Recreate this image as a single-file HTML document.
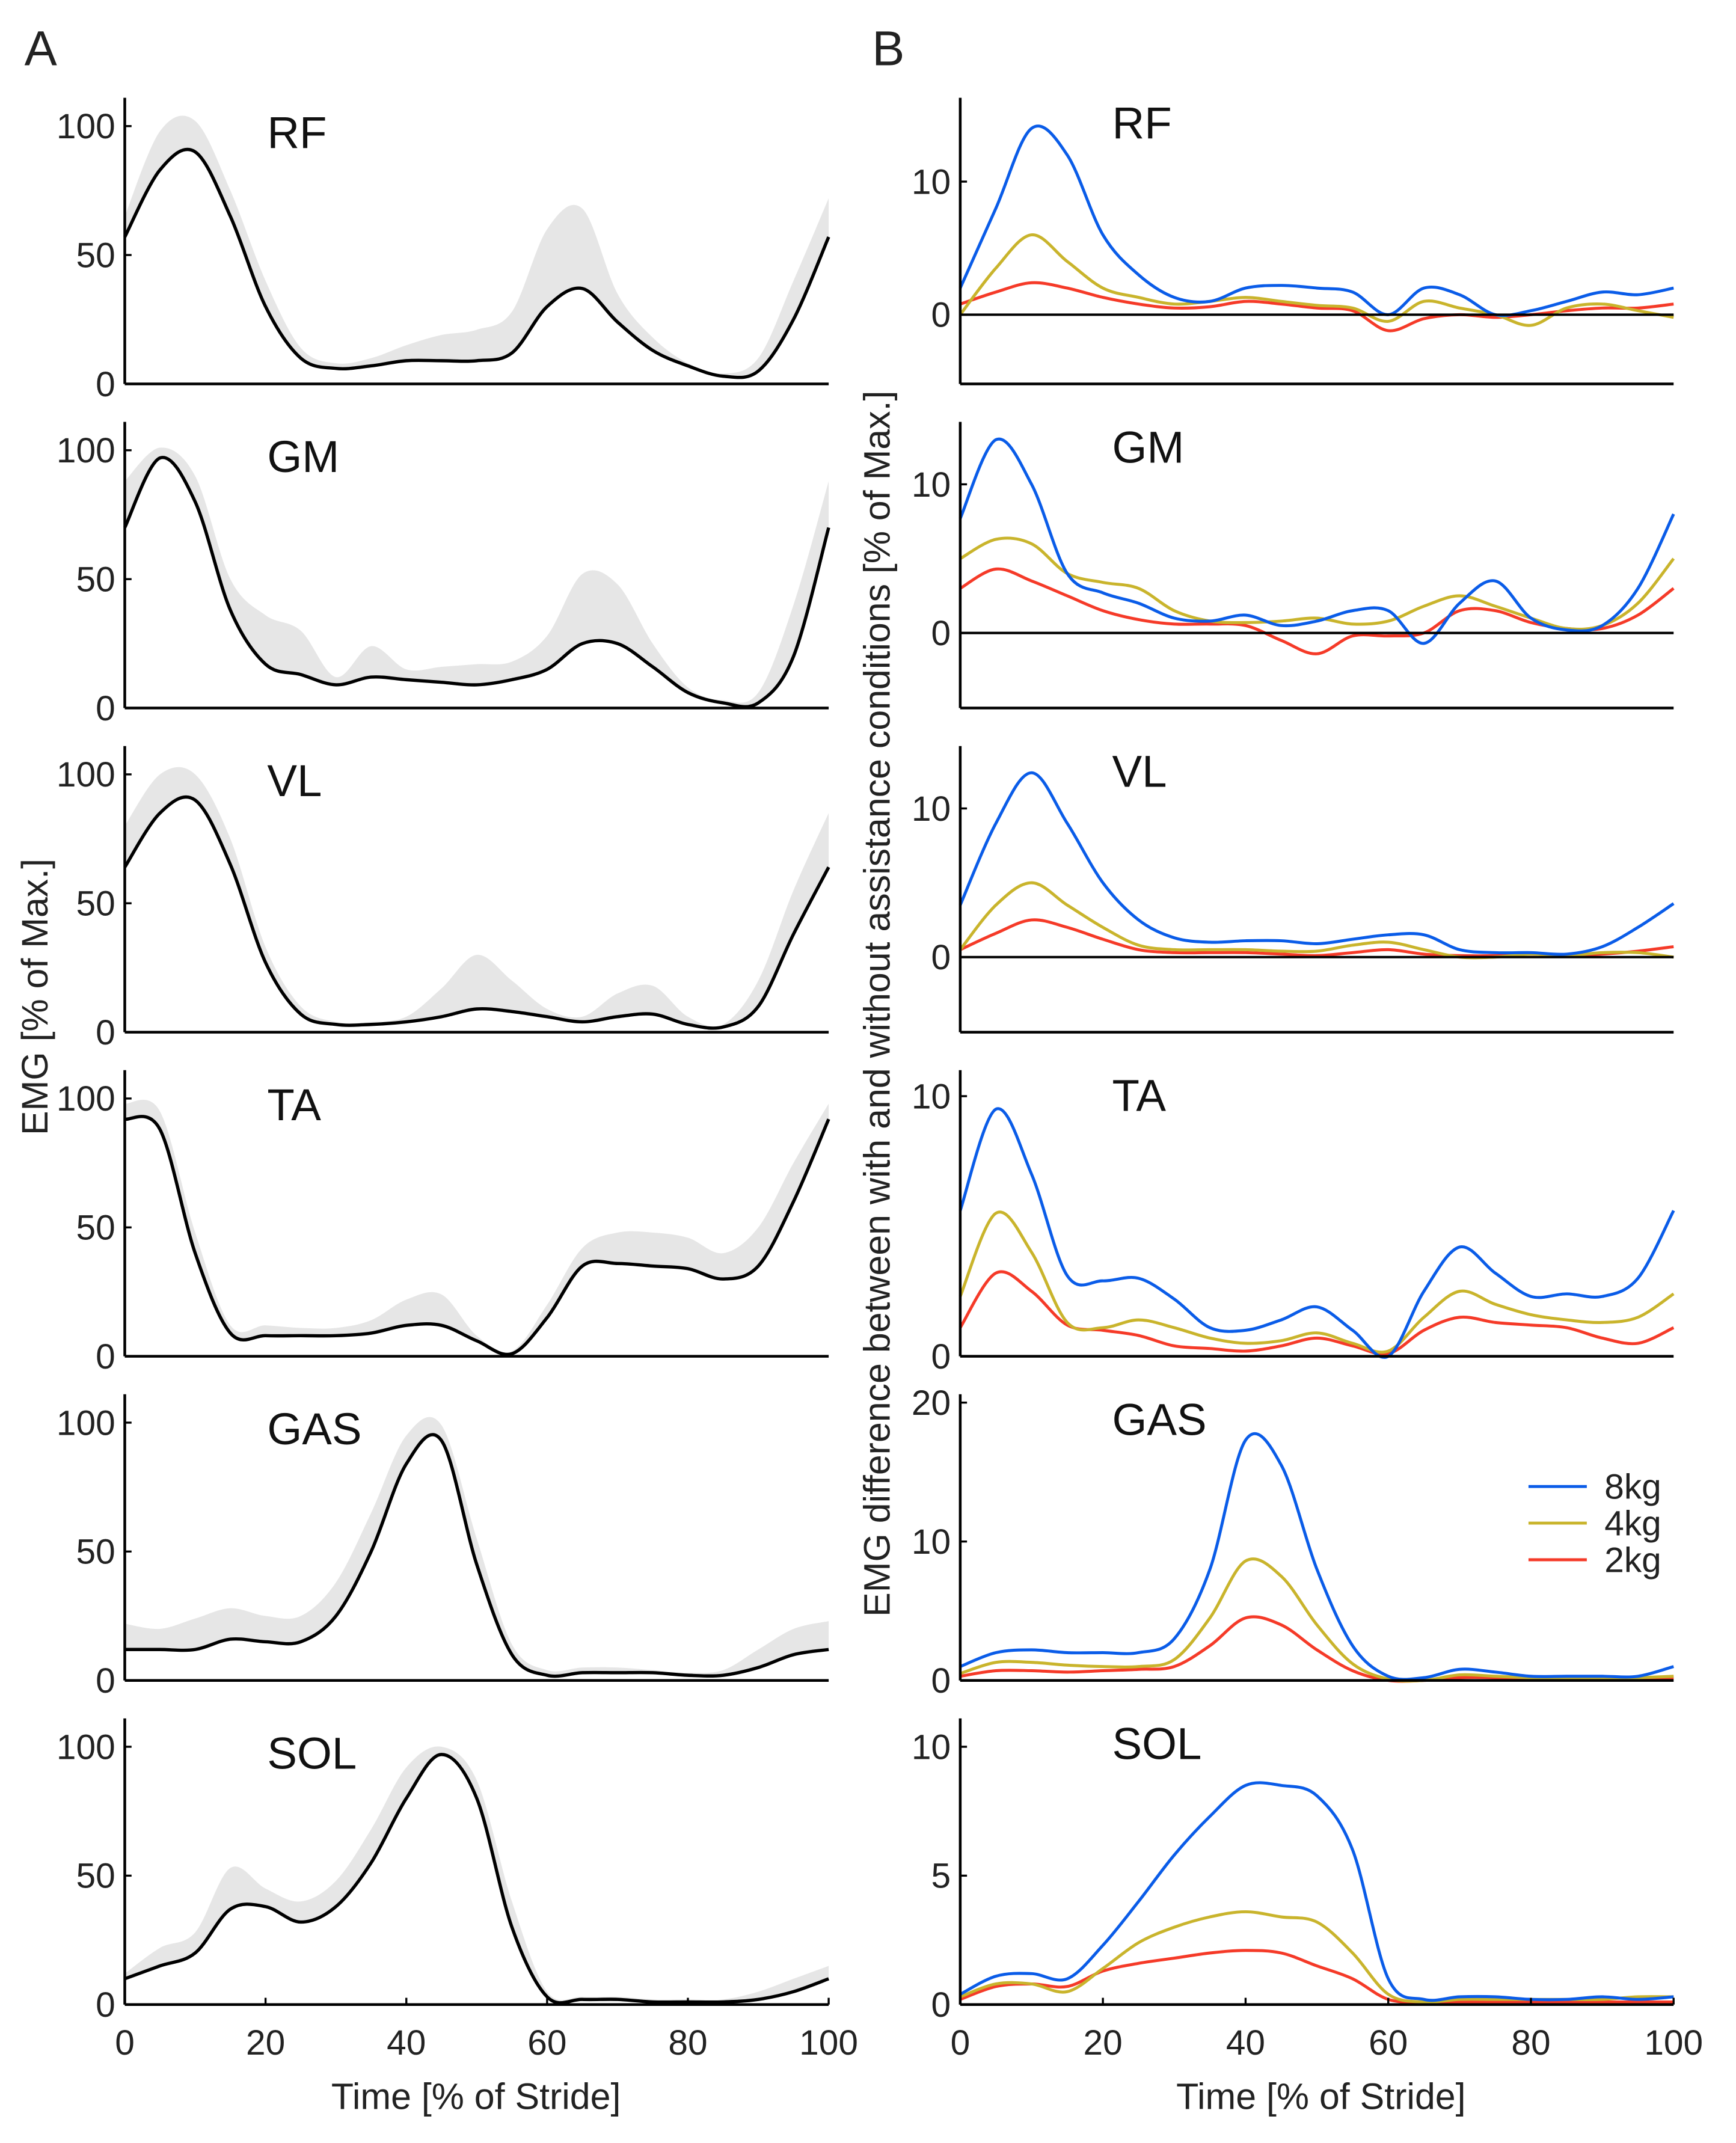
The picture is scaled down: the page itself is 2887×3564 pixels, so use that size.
<!DOCTYPE html>
<html><head><meta charset="utf-8"><style>
html,body{margin:0;padding:0;background:#fff;}
svg{display:block;font-family:"Liberation Sans",sans-serif;}
</style></head><body>
<svg id="fig" width="2887" height="3564" viewBox="0 0 1280 1580" xmlns="http://www.w3.org/2000/svg">
<text x="18" y="48" font-size="36" fill="#222">A</text>
<text x="643" y="48" font-size="36" fill="#222">B</text>
<text transform="translate(35,735) rotate(-90)" text-anchor="middle" font-size="27" fill="#222">EMG [% of Max.]</text>
<text transform="translate(656,740) rotate(-90)" text-anchor="middle" font-size="27" fill="#222">EMG difference between with and without assistance conditions [% of Max.]</text>
<text x="351" y="1555" text-anchor="middle" font-size="27" fill="#222">Time [% of Stride]</text>
<text x="974" y="1555" text-anchor="middle" font-size="27" fill="#222">Time [% of Stride]</text>
<g id="plots"></g>
</svg>
<script>
const xs=[0,5,10,15,20,25,30,35,40,45,50,55,60,65,70,75,80,85,90,95,100];
const muscles=["RF","GM","VL","TA","GAS","SOL"];
const meanRF=[57,83,90,65,30,10,6,7,9,9,9,12,30,37,24,13,7,3,5,25,57];
const upRF=[65,98,102,75,40,14,8,10,15,19,21,28,60,68,35,18,8,4,10,40,72];
const meanGM=[70,97,80,38,17,13,9,12,11,10,9,11,15,25,25,16,6,2,2,20,70];
const upGM=[88,101,90,50,36,30,12,24,15,16,17,18,28,52,48,25,8,3,6,40,88];
const meanVL=[64,85,90,65,27,7,3,3,4,6,9,8,6,4,6,7,3,2,10,38,64];
const upVL=[80,100,100,75,33,10,4,4,6,17,30,20,9,6,15,18,6,3,20,55,85];
const meanTA=[92,88,40,9,8,8,8,9,12,12,6,1,15,35,36,35,34,30,35,60,92];
const upTA=[98,95,48,12,12,11,11,14,22,24,8,2,20,42,48,48,46,40,50,75,98];
const meanGAS=[12,12,12,16,15,15,25,50,84,93,45,10,2,3,3,3,2,2,5,10,12];
const upGAS=[22,20,24,28,25,25,38,65,95,99,55,14,4,5,5,4,3,4,12,20,23];
const meanSOL=[10,15,20,37,38,32,38,55,80,97,80,30,3,2,2,1,1,1,2,5,10];
const upSOL=[12,22,28,53,45,40,48,68,92,100,87,40,5,3,3,2,2,2,5,10,15];
const meanData=[meanRF,meanGM,meanVL,meanTA,meanGAS,meanSOL];
const upData=[upRF,upGM,upVL,upTA,upGAS,upSOL];

const kg8RF=[2,8,14,12,6,3,1.3,1,2,2.2,2,1.7,0,2,1.5,0,0.3,1,1.7,1.5,2];
const kg4RF=[0,3.5,6,4,2,1.3,0.8,1,1.3,1,0.7,0.5,-0.5,1,0.5,0,-0.8,0.5,0.8,0.3,-0.2];
const kg2RF=[0.8,1.7,2.4,2,1.3,0.8,0.5,0.6,1,0.8,0.5,0.3,-1.2,-0.3,0,-0.2,0,0.3,0.5,0.5,0.8];
const kg8GM=[7.7,13,10,4,2.7,2,1,0.8,1.2,0.5,0.8,1.5,1.5,-0.7,2,3.5,1,0.2,0.5,3,8];
const kg4GM=[5,6.3,6,4,3.4,3,1.5,0.8,0.7,0.8,1,0.6,0.8,1.8,2.5,1.8,1,0.3,0.5,2,5];
const kg2GM=[3,4.3,3.5,2.5,1.5,0.9,0.6,0.6,0.5,-0.5,-1.4,-0.2,-0.2,0,1.5,1.5,0.7,0.3,0.3,1.2,3];
const kg8VL=[3.5,9,12.4,9,5,2.5,1.3,1,1.1,1.1,0.9,1.2,1.5,1.5,0.5,0.3,0.3,0.2,0.7,2,3.6];
const kg4VL=[0.5,3.5,5,3.5,2,0.8,0.5,0.5,0.5,0.4,0.4,0.8,1,0.5,0,0,0.2,0.1,0.3,0.3,0];
const kg2VL=[0.5,1.6,2.5,2,1.2,0.5,0.3,0.3,0.3,0.2,0.1,0.3,0.5,0.2,0.1,0.1,0.2,0.1,0.2,0.4,0.7];
const kg8TA=[5.6,9.5,7,3.1,2.9,3,2.2,1.1,1,1.4,1.9,1,0,2.5,4.2,3.2,2.3,2.4,2.3,3,5.6];
const kg4TA=[2.3,5.5,4,1.3,1.1,1.4,1.1,0.7,0.5,0.6,0.9,0.5,0.2,1.5,2.5,2,1.6,1.4,1.3,1.5,2.4];
const kg2TA=[1.1,3.2,2.5,1.2,1,0.8,0.4,0.3,0.2,0.4,0.7,0.4,0.1,1,1.5,1.3,1.2,1.1,0.7,0.5,1.1];
const kg8GAS=[1,2,2.2,2,2,2,3,8,17.3,15.5,8,2.5,0.3,0.2,0.8,0.6,0.3,0.3,0.3,0.3,1];
const kg4GAS=[0.5,1.3,1.3,1.1,1,1,1.5,4.5,8.6,7.5,4,1.2,0.1,0,0.4,0.3,0.2,0.2,0.2,0.2,0.3];
const kg2GAS=[0.3,0.7,0.7,0.6,0.7,0.8,1,2.5,4.5,4,2.2,0.7,0,0,0.2,0.2,0.1,0.1,0.1,0.1,0.2];
const kg8SOL=[0.4,1.1,1.2,1,2.3,4,5.8,7.3,8.5,8.5,8.1,6,1,0.2,0.3,0.3,0.2,0.2,0.3,0.2,0.3];
const kg4SOL=[0.3,0.8,0.8,0.5,1.4,2.4,3,3.4,3.6,3.4,3.2,2,0.4,0.1,0.2,0.2,0.2,0.2,0.2,0.3,0.3];
const kg2SOL=[0.2,0.7,0.8,0.7,1.3,1.6,1.8,2,2.1,2,1.5,1,0.2,0.1,0.1,0.1,0.1,0.1,0.1,0.1,0.1];
const kg8=[kg8RF,kg8GM,kg8VL,kg8TA,kg8GAS,kg8SOL];
const kg4=[kg4RF,kg4GM,kg4VL,kg4TA,kg4GAS,kg4SOL];
const kg2=[kg2RF,kg2GM,kg2VL,kg2TA,kg2GAS,kg2SOL];
const leftTicks=[0,50,100];
const rightTicks=[[0,10],[0,10],[0,10],[0,10],[0,10,20],[0,5,10]];
const rightRanges=[[-5.2,16.3],[-5.05,14.2],[-5.05,14.2],[0,11],[0,20.6],[0,11.1]];
const xTicks=[0,20,40,60,80,100];
const seriesNames=["8kg","4kg","2kg"];
const colors=["#0a5ce8","#c9b42c","#f53a28"];

const NS="http://www.w3.org/2000/svg";
const root=document.getElementById("plots");
function mk(tag,attrs,parent){const e=document.createElementNS(NS,tag);for(const k in attrs)e.setAttribute(k,attrs[k]);(parent||root).appendChild(e);return e;}
function cr(pts){let d="M"+pts[0][0].toFixed(2)+","+pts[0][1].toFixed(2);for(let i=0;i<pts.length-1;i++){const p0=pts[i-1]||pts[i],p1=pts[i],p2=pts[i+1],p3=pts[i+2]||pts[i+1];const c1=[p1[0]+(p2[0]-p0[0])/6,p1[1]+(p2[1]-p0[1])/6],c2=[p2[0]-(p3[0]-p1[0])/6,p2[1]-(p3[1]-p1[1])/6];d+="C"+c1[0].toFixed(2)+","+c1[1].toFixed(2)+" "+c2[0].toFixed(2)+","+c2[1].toFixed(2)+" "+p2[0].toFixed(2)+","+p2[1].toFixed(2);}return d;}
const rowH=239, H=211, firstBottom=283;
const L={x0:92,x1:611}, R={x0:708,x1:1234};

for(let m=0;m<6;m++){
  const bottom=firstBottom+m*rowH, top=bottom-H;
  const last=m===5;
  const gl=mk("g",{});
  
  
  const lx=v=>L.x0+(L.x1-L.x0)*v/100, ly=v=>bottom-(bottom-top)*v/111;
  const up=xs.map((x,i)=>[lx(x),ly(upData[m][i])]);
  const mn=xs.map((x,i)=>[lx(x),ly(meanData[m][i])]);
  const band=mk("path",{d:cr(up)+"L"+cr(mn.slice().reverse()).slice(1)+"Z",fill:"#e6e6e6",stroke:"none"},gl);
  
  
  const ml=mk("path",{d:cr(mn),fill:"none",stroke:"#000","stroke-width":2.4},gl);
  
  
  mk("line",{x1:L.x0,y1:top,x2:L.x0,y2:bottom,stroke:"#000","stroke-width":2},gl);
  mk("line",{x1:L.x0,y1:bottom,x2:L.x1,y2:bottom,stroke:"#000","stroke-width":2},gl);
  leftTicks.forEach(t=>{mk("line",{x1:L.x0,y1:ly(t),x2:L.x0+5,y2:ly(t),stroke:"#000","stroke-width":1.5},gl);
    const tx=mk("text",{x:L.x0-7,y:ly(t)+9,"text-anchor":"end","font-size":26,fill:"#222"},gl);tx.textContent=t;
    
    });
  const nl=mk("text",{x:197,y:top+37,"font-size":33,fill:"#111"},gl);nl.textContent=muscles[m];
  
  
  const gr=mk("g",{});
  
  
  const [ymin,ymax]=rightRanges[m];
  const rx=v=>R.x0+(R.x1-R.x0)*v/100, ry=v=>bottom-(bottom-top)*(v-ymin)/(ymax-ymin);
  [kg8,kg4,kg2].slice().reverse().forEach((s,ri)=>{const si=2-ri;
    const p=mk("path",{d:cr(xs.map((x,i)=>[rx(x),ry(s[m][i])])),fill:"none",stroke:colors[si],"stroke-width":2.2},gr);
    
    });
  if(ymin<0){const z=mk("line",{x1:R.x0,y1:ry(0),x2:R.x1,y2:ry(0),stroke:"#000","stroke-width":1.8},gr);
    
    }
  mk("line",{x1:R.x0,y1:top,x2:R.x0,y2:bottom,stroke:"#000","stroke-width":2},gr);
  mk("line",{x1:R.x0,y1:bottom,x2:R.x1,y2:bottom,stroke:"#000","stroke-width":2},gr);
  rightTicks[m].forEach(t=>{mk("line",{x1:R.x0,y1:ry(t),x2:R.x0+5,y2:ry(t),stroke:"#000","stroke-width":1.5},gr);
    const tx=mk("text",{x:R.x0-7,y:ry(t)+9,"text-anchor":"end","font-size":26,fill:"#222"},gr);tx.textContent=t;
    
    });
  const nr=mk("text",{x:820,y:top+30,"font-size":33,fill:"#111"},gr);nr.textContent=muscles[m];
  
  
  if(last){
    xTicks.forEach(t=>{
      [[lx,gl],[rx,gr]].forEach(([f,g])=>{
        mk("line",{x1:f(t),y1:bottom,x2:f(t),y2:bottom-5,stroke:"#000","stroke-width":1.5},g);
        const tx=mk("text",{x:f(t),y:bottom+37,"text-anchor":"middle","font-size":26,fill:"#222"},g);tx.textContent=t;
        
        
      });
    });
  }
  if(m===4){
    const lg=mk("g",{},gr);
    
    
    seriesNames.forEach((n,i)=>{const y=1096+i*27;
      mk("line",{x1:1127,y1:y,x2:1170,y2:y,stroke:colors[i],"stroke-width":2.2},lg);
      const t=mk("text",{x:1183,y:y+9,"font-size":26,fill:"#222"},lg);t.textContent=n;
      
      });
  }
}
</script>
</body></html>
